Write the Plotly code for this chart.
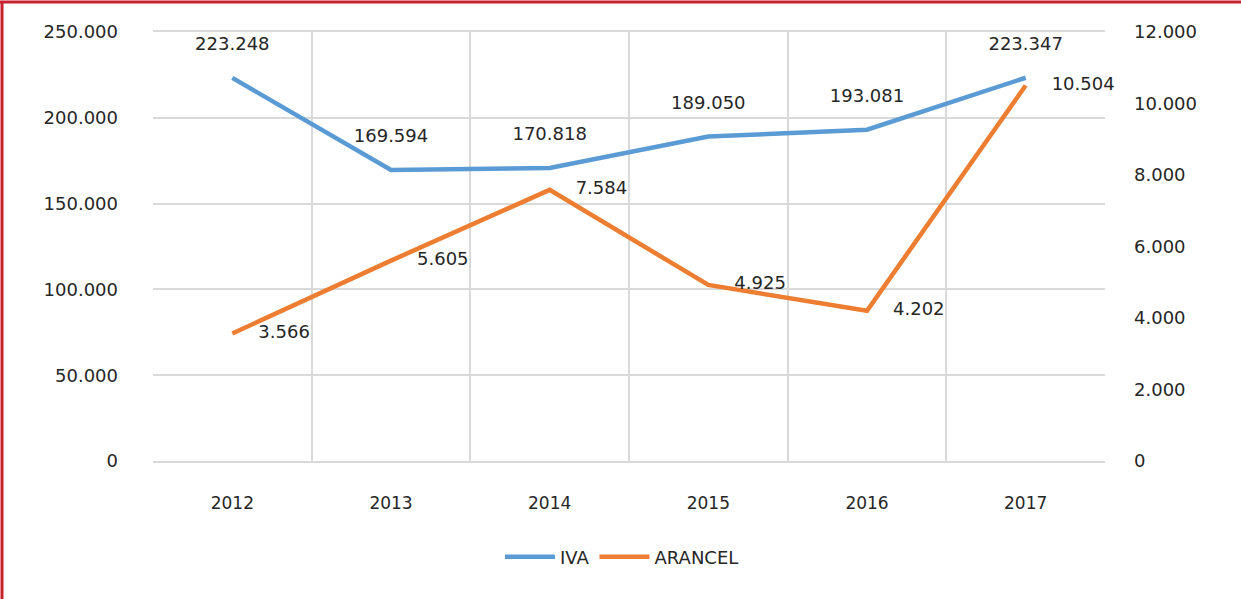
import plotly.graph_objects as go

years = ['2012', '2013', '2014', '2015', '2016', '2017']
iva = [223248, 169594, 170818, 189050, 193081, 223347]
arancel = [3566, 5605, 7584, 4925, 4202, 10504]

W, H = 1241, 599
ml, mr, mt, mb = 153, 136, 32, 138
pw, ph = W - ml - mr, H - mt - mb

font_ = 'DejaVu Sans'
grid_c = '#D9D9D9'
txt_c = '#262626'

fig = go.Figure()
fig.add_trace(go.Scatter(
    x=years, y=iva, name='IVA',
    mode='lines+markers+text',
    line=dict(color='#5B9BD5', width=4.5),
    marker=dict(size=36, color='rgba(0,0,0,0)'),
    texttemplate='%{y:,.0f}', textposition='top center',
    textfont=dict(size=18, color=txt_c),
    cliponaxis=False,
))
fig.add_trace(go.Scatter(
    x=years, y=arancel, name='ARANCEL',
    mode='lines+markers+text',
    line=dict(color='#ED7D31', width=4.5),
    marker=dict(size=40, color='rgba(0,0,0,0)'),
    texttemplate='%{y:,.0f}', textposition='middle right',
    textfont=dict(size=18, color=txt_c),
    cliponaxis=False,
    yaxis='y2',
))

# red frame on left and top edge
px = lambda v: (v - ml) / pw
py = lambda v: (H - mb - v) / ph
fig.add_shape(type='line', xref='paper', yref='paper',
              x0=px(2), x1=px(2), y0=py(1), y1=py(H + 5),
              line=dict(color='#C8202E', width=3))
fig.add_shape(type='line', xref='paper', yref='paper',
              x0=px(0), x1=px(W + 5), y0=py(2), y1=py(2),
              line=dict(color='#C8202E', width=3))

fig.update_layout(
    width=W, height=H,
    margin=dict(l=ml, r=mr, t=mt, b=mb, autoexpand=False),
    paper_bgcolor='white', plot_bgcolor='white',
    separators=',.',
    font=dict(family=font_, size=18, color=txt_c),
    showlegend=True,
    legend=dict(orientation='h', x=px(622), xanchor='center',
                yref='container', y=1 - 557 / H, yanchor='middle',
                font=dict(size=18, color=txt_c), itemwidth=50),
    xaxis=dict(type='category', tickson='boundaries', showgrid=True, gridcolor=grid_c,
               gridwidth=1.5, showline=True, linecolor=grid_c, linewidth=1.5,
               ticks='', ticklabelstandoff=26, mirror=True, range=[-0.5, 5.5],
               automargin=False, tickfont=dict(size=17)),
    yaxis=dict(range=[0, 250000], dtick=50000, tickformat=',d', showgrid=True,
               gridcolor=grid_c, gridwidth=1.5, zeroline=False, ticks='',
               ticklabelstandoff=34, showline=False, automargin=False),
    yaxis2=dict(range=[0, 12000], dtick=2000, tickformat=',d', overlaying='y',
                side='right', showgrid=False, zeroline=False, ticks='',
                ticklabelstandoff=28, automargin=False),
)

fig.write_html('out.html', config={'displayModeBar': False},
               post_script="document.body.style.margin='0';")
